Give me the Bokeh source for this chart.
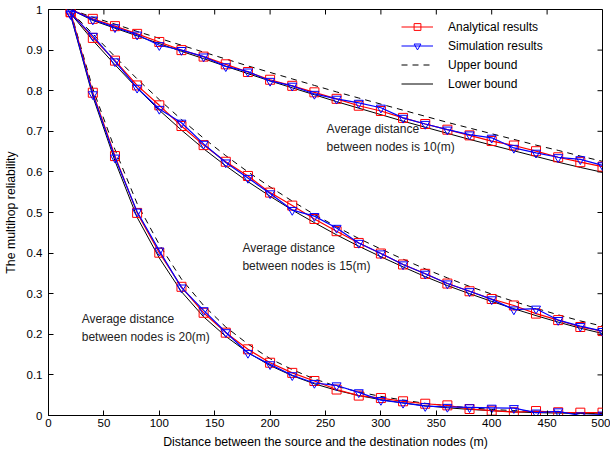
from bokeh.plotting import figure
from bokeh.models import Label, FixedTicker, Legend, LegendItem
from bokeh.embed import file_html
from bokeh.resources import INLINE

# ---------------- data ----------------
distance = [20, 40, 60, 80, 100, 120, 140, 160, 180, 200, 220, 240, 260,
            280, 300, 320, 340, 360, 380, 400, 420, 440, 460, 480, 500]

ana_10 = [1.000, 0.977, 0.959, 0.940, 0.920, 0.900, 0.884, 0.865, 0.846, 0.827,
          0.812, 0.796, 0.780, 0.763, 0.750, 0.733, 0.718, 0.704, 0.690, 0.676,
          0.665, 0.651, 0.636, 0.624, 0.613]
sim_10 = [1.000, 0.975, 0.956, 0.938, 0.912, 0.900, 0.884, 0.860, 0.847, 0.824,
          0.812, 0.792, 0.780, 0.770, 0.758, 0.733, 0.718, 0.704, 0.692, 0.684,
          0.659, 0.647, 0.636, 0.631, 0.616]
up_10 = [1.000, 0.981, 0.964, 0.946, 0.929, 0.912, 0.895, 0.878, 0.861, 0.845,
         0.829, 0.813, 0.797, 0.782, 0.767, 0.752, 0.737, 0.722, 0.708, 0.694,
         0.680, 0.666, 0.653, 0.639, 0.626]
lo_10 = [1.000, 0.973, 0.954, 0.935, 0.916, 0.897, 0.879, 0.860, 0.842, 0.824,
         0.807, 0.790, 0.773, 0.757, 0.741, 0.725, 0.710, 0.695, 0.680, 0.666,
         0.652, 0.638, 0.624, 0.611, 0.599]

ana_15 = [0.994, 0.930, 0.874, 0.813, 0.764, 0.713, 0.666, 0.625, 0.590, 0.549,
          0.517, 0.484, 0.454, 0.425, 0.399, 0.372, 0.349, 0.325, 0.306, 0.287,
          0.271, 0.251, 0.235, 0.218, 0.208]
sim_15 = [0.990, 0.935, 0.872, 0.807, 0.755, 0.721, 0.669, 0.623, 0.585, 0.547,
          0.506, 0.491, 0.462, 0.425, 0.399, 0.372, 0.349, 0.325, 0.306, 0.286,
          0.261, 0.263, 0.235, 0.220, 0.208]
up_15 = [0.995, 0.940, 0.884, 0.829, 0.778, 0.729, 0.683, 0.640, 0.600, 0.563,
         0.528, 0.495, 0.465, 0.436, 0.410, 0.385, 0.361, 0.339, 0.318, 0.299,
         0.281, 0.264, 0.248, 0.233, 0.220]
lo_15 = [0.990, 0.924, 0.864, 0.806, 0.752, 0.703, 0.657, 0.615, 0.576, 0.540,
         0.506, 0.475, 0.445, 0.417, 0.391, 0.366, 0.342, 0.320, 0.300, 0.281,
         0.263, 0.246, 0.230, 0.215, 0.202]

ana_20 = [0.993, 0.795, 0.639, 0.499, 0.401, 0.317, 0.253, 0.204, 0.163, 0.130,
          0.105, 0.085, 0.064, 0.049, 0.043, 0.035, 0.029, 0.025, 0.016, 0.012,
          0.008, 0.011, 0.008, 0.007, 0.007]
sim_20 = [0.988, 0.791, 0.635, 0.502, 0.406, 0.315, 0.259, 0.205, 0.154, 0.126,
          0.099, 0.080, 0.074, 0.057, 0.038, 0.031, 0.023, 0.021, 0.020, 0.019,
          0.018, 0.007, 0.010, 0.000, 0.002]
up_20 = [0.995, 0.805, 0.655, 0.522, 0.421, 0.336, 0.271, 0.218, 0.176, 0.140,
         0.113, 0.090, 0.072, 0.058, 0.047, 0.038, 0.030, 0.024, 0.019, 0.015,
         0.012, 0.010, 0.008, 0.006, 0.005]
lo_20 = [0.985, 0.786, 0.627, 0.488, 0.388, 0.305, 0.243, 0.195, 0.155, 0.123,
         0.098, 0.078, 0.062, 0.049, 0.039, 0.031, 0.024, 0.019, 0.015, 0.012,
         0.009, 0.007, 0.006, 0.005, 0.004]

x_ticks = [0, 50, 100, 150, 200, 250, 300, 350, 400, 450, 500]
y_ticks = [0, 0.1, 0.2, 0.3, 0.4, 0.5, 0.6, 0.7, 0.8, 0.9, 1]
y_tick_labels = {0: "0", 0.1: "0.1", 0.2: "0.2", 0.3: "0.3", 0.4: "0.4", 0.5: "0.5",
                 0.6: "0.6", 0.7: "0.7", 0.8: "0.8", 0.9: "0.9", 1: "1"}

annotations = [
    (251, 0.724, "Average distance\nbetween nodes is 10(m)"),
    (175, 0.431, "Average distance\nbetween nodes is 15(m)"),
    (30, 0.256, "Average distance\nbetween nodes is 20(m)"),
]

FONT = "Liberation Sans"
X0, X1, Y0, Y1 = 0, 500, 0, 1
FW, FH = 554, 406
TICK = 5

# ---------------- figure ----------------
p = figure(frame_width=FW, frame_height=FH, x_range=(X0, X1), y_range=(Y0, Y1),
           output_backend="svg", toolbar_location=None,
           min_border_left=39, min_border_top=9, min_border_right=8, min_border_bottom=30,
           background_fill_color="white", border_fill_color="white")
p.grid.visible = False
p.outline_line_color = "black"
p.outline_line_width = 1

for ax in [p.xaxis[0], p.yaxis[0]]:
    ax.major_tick_in = TICK
    ax.major_tick_out = 0
    ax.minor_tick_line_color = None
    ax.axis_line_color = "black"
    ax.major_label_text_font = FONT
    ax.major_label_text_font_size = "11.5px"
    ax.major_label_text_color = "black"
    ax.axis_label_text_font = FONT
    ax.axis_label_text_font_size = "12.3px"
    ax.axis_label_text_font_style = "normal"
    ax.axis_label_text_color = "black"

p.xaxis[0].ticker = FixedTicker(ticks=x_ticks)
p.yaxis[0].ticker = FixedTicker(ticks=y_ticks)
p.yaxis[0].major_label_overrides = y_tick_labels
p.xaxis[0].axis_label = "Distance between the source and the destination nodes (m)"
p.yaxis[0].axis_label = "The multihop reliability"
p.xaxis[0].axis_label_standoff = 5
p.yaxis[0].axis_label_standoff = 6
p.xaxis[0].major_label_standoff = 3
p.yaxis[0].major_label_standoff = 6

# mirrored inward ticks on the top and right edges (box on)
dy = TICK * (Y1 - Y0) / FH
dx = TICK * (X1 - X0) / FW
p.segment(x0=x_ticks, y0=[Y1] * len(x_ticks), x1=x_ticks, y1=[Y1 - dy] * len(x_ticks),
          line_color="black", line_width=1)
p.segment(x0=[X1] * len(y_ticks), y0=y_ticks, x1=[X1 - dx] * len(y_ticks), y1=y_ticks,
          line_color="black", line_width=1)

RED = "#ff0000"
BLUE = "#0000ff"

ups = [up_10, up_15, up_20]
los = [lo_10, lo_15, lo_20]
anas = [ana_10, ana_15, ana_20]
sims = [sim_10, sim_15, sim_20]

r_up = r_lo = r_ana_l = r_ana_m = r_sim_l = r_sim_m = None
for up, lo in zip(ups, los):
    r_up = p.line(distance, up, line_color="black", line_width=1, line_dash="6 5")
    r_lo = p.line(distance, lo, line_color="black", line_width=1)
for ana in anas:
    r_ana_l = p.line(distance, ana, line_color=RED, line_width=1.2)
    r_ana_m = p.scatter(distance, ana, marker="square", size=9, fill_color=None,
                        line_color=RED, line_width=1)
for sim in sims:
    r_sim_l = p.line(distance, sim, line_color=BLUE, line_width=1.2)
    r_sim_m = p.scatter(distance, sim, marker="inverted_triangle", size=9,
                        fill_color=None, line_color=BLUE, line_width=1)

legend = Legend(items=[
    LegendItem(label="Analytical results", renderers=[r_ana_l, r_ana_m]),
    LegendItem(label="Simulation results", renderers=[r_sim_l, r_sim_m]),
    LegendItem(label="Upper bound", renderers=[r_up]),
    LegendItem(label="Lower bound", renderers=[r_lo]),
], location=(353, 323))
legend.label_text_font = FONT
legend.label_text_font_size = "12px"
legend.label_text_color = "black"
legend.glyph_width = 32
legend.glyph_height = 17
legend.label_height = 17
legend.label_standoff = 15
legend.spacing = 2
legend.padding = 0
legend.margin = 0
legend.border_line_color = None
legend.background_fill_alpha = 0
p.add_layout(legend)

for lx, ly, txt in annotations:
    p.add_layout(Label(x=lx, y=ly, text=txt, text_font=FONT, text_font_size="12px",
                       text_color="#222222", text_baseline="top", text_align="left",
                       text_line_height=1.35))

open("out.html", "w").write(file_html(p, INLINE))
